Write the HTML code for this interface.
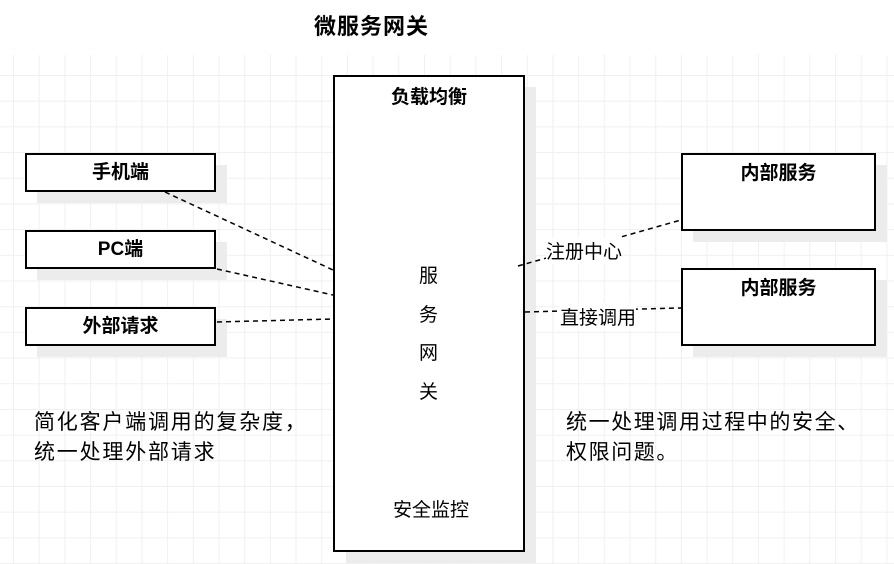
<!DOCTYPE html>
<html><head><meta charset="utf-8"><style>
body{margin:0;width:894px;height:564px;background:#fff;position:relative;overflow:hidden;font-family:"Liberation Sans","Noto Sans CJK SC",sans-serif;}
.grid{position:absolute;left:0;top:55px;width:894px;height:509px;background-image:linear-gradient(#f0f0f0 1px,transparent 1px),linear-gradient(90deg,#f0f0f0 1px,transparent 1px);background-size:25.7px 25.7px;background-position:13px 20px;}
.b{position:absolute;border:2px solid #000;background:#fff;box-sizing:border-box;text-align:center;font-weight:bold;font-size:19px;color:#000;}
.s{position:absolute;background:#ececec;}
.t{position:absolute;font-size:19px;color:#000;white-space:nowrap;}
</style></head><body>
<div class="grid"></div>
<div class="t" style="left:314px;top:9px;font-weight:bold;font-size:22px;letter-spacing:1px">微服务网关</div>
<div class="s" style="left:37px;top:165px;width:190px;height:38px"></div>
<div class="s" style="left:37px;top:242px;width:190px;height:38px"></div>
<div class="s" style="left:37px;top:319px;width:190px;height:38px"></div>
<div class="s" style="left:346px;top:87px;width:190px;height:476px"></div>
<div class="s" style="left:693px;top:165px;width:194px;height:77px"></div>
<div class="s" style="left:693px;top:280px;width:194px;height:77px"></div>
<div class="b" style="left:25px;top:153px;width:191px;height:39px;line-height:35px">手机端</div>
<div class="b" style="left:25px;top:230px;width:191px;height:39px;line-height:35px">PC端</div>
<div class="b" style="left:25px;top:307px;width:191px;height:39px;line-height:35px">外部请求</div>
<div class="b" style="left:333px;top:75px;width:192px;height:477px;padding-top:10px;line-height:22px">负载均衡</div>
<div class="b" style="left:681px;top:153px;width:195px;height:78px;padding-top:8px;line-height:22px">内部服务</div>
<div class="b" style="left:681px;top:268px;width:195px;height:78px;padding-top:8px;line-height:22px">内部服务</div>
<svg width="894" height="564" style="position:absolute;left:0;top:0">
<g stroke="#000" stroke-width="1.5" stroke-dasharray="5,4" fill="none">
<path d="M165 192 L333 270"/><path d="M217 269 L333 295"/><path d="M217 322 L333 319"/>
<path d="M518 266 L681 220"/><path d="M525 312 L681 308"/>
</g></svg>
<div class="t" style="left:546px;top:237px;background:#fff;font-size:19px">注册中心</div>
<div class="t" style="left:560px;top:303px;background:#fff;font-size:19px">直接调用</div>
<div class="t" style="left:419px;top:258px;line-height:38.5px;font-size:19px;white-space:normal;width:20px">服<br>务<br>网<br>关</div>
<div class="t" style="left:393px;top:495px;font-size:19px">安全监控</div>
<div class="t" style="left:34px;top:408px;line-height:30px;font-size:21px;letter-spacing:1.8px">简化客户端调用的复杂度，<br>统一处理外部请求</div>
<div class="t" style="left:566px;top:408px;line-height:30px;font-size:21px;letter-spacing:1.6px">统一处理调用过程中的安全、<br>权限问题。</div>
</body></html>
